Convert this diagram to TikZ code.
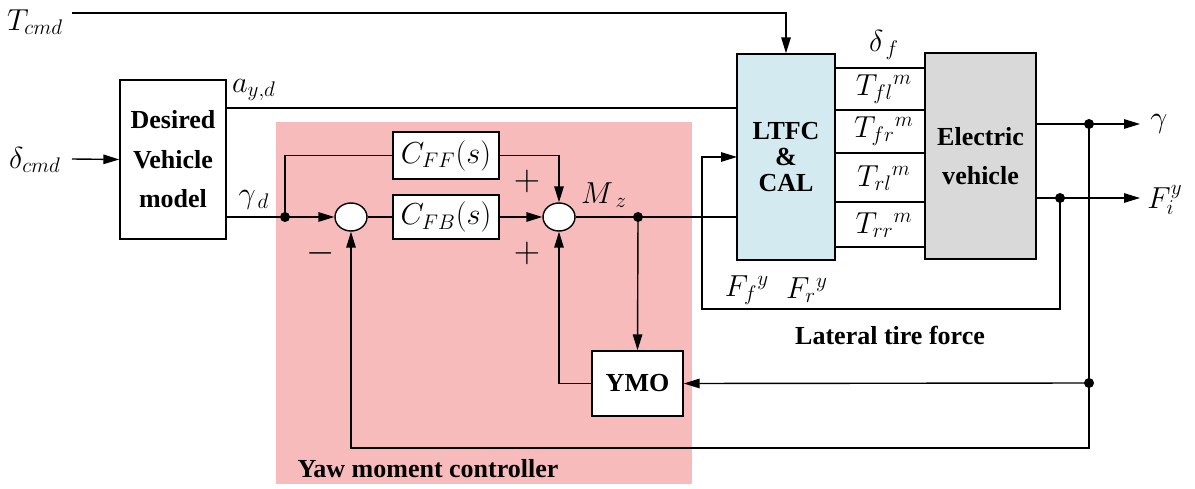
\documentclass[tikz,border=0pt]{standalone}
\usepackage{fontspec}
\setmainfont{Liberation Serif}
\usepackage{tikz}
\usetikzlibrary{arrows.meta,positioning,shapes.geometric,calc}
\definecolor{ymcpink}{HTML}{F7BBBC}
\definecolor{ltfcblue}{HTML}{D3EAF0}
\definecolor{evgray}{HTML}{D9D9D9}

\begin{document}
\begin{tikzpicture}[x=0.02cm,y=-0.02cm,line width=0.8pt,
  >={Triangle[length=0.32cm,width=0.19cm]},
  blk/.style={draw,fill=white,align=center,inner sep=0pt,font=\fontsize{14.8}{22.5}\selectfont\bfseries},
  sumnode/.style={draw,ellipse,fill=white,minimum width=0.64cm,minimum height=0.56cm,inner sep=0pt},
  lbl/.style={font=\fontsize{16.5}{19}\selectfont,inner sep=1pt},
  sgn/.style={font=\fontsize{21}{24}\selectfont,inner sep=0pt},
  dot/.style={fill=black}]
  \useasboundingbox (0,0) rectangle (1195,489);
  % yaw moment controller region
  \fill[ymcpink] (276,122) rectangle (692,484);
  \node[font=\fontsize{14.8}{17}\selectfont\bfseries] (ymclbl) at (428,469) {Yaw moment controller};

  % blocks
  \node[blk,minimum width=2.12cm,minimum height=3.18cm] (dvm) at (173,159.5) {Desired\\Vehicle\\model};
  \node[blk,minimum width=2.12cm,minimum height=0.94cm,font=\fontsize{16.5}{19}\selectfont] (cff) at (446,155.5) {$C_{FF}(s)$};
  \node[blk,minimum width=2.12cm,minimum height=0.88cm,font=\fontsize{16.5}{19}\selectfont] (cfb) at (446,217) {$C_{FB}(s)$};
  \node[sumnode] (sum1) at (351,217) {};
  \node[sumnode] (sum2) at (559,217) {};
  \node[blk,minimum width=1.82cm,minimum height=1.3cm] (ymo) at (637.5,383.5) {YMO};
  \node[blk,fill=ltfcblue,minimum width=1.96cm,minimum height=4.12cm,font=\fontsize{14.8}{15}\selectfont\bfseries] (ltfc) at (786,157) {LTFC\\\&\\CAL};
  \node[blk,fill=evgray,minimum width=2.22cm,minimum height=4.12cm] (ev) at (980.5,156) {Electric\\vehicle};

  % signal labels
  \node[lbl] (tcmd) at (35,22) {$T_{cmd}$};
  \node[lbl] (dcmd) at (35,160) {$\delta_{cmd}$};
  \node[lbl] (ayd) at (254,90) {$a_{y,d}$};
  \node[lbl] (gamd) at (254,200) {$\gamma_{\,d}$};
  \node[lbl] (mz) at (604,195) {$M_{\;z}$};
  \node[sgn] (plusa) at (527,181) {$+$};
  \node[sgn] (plusb) at (527,253) {$+$};
  \node[sgn] (minus) at (321,253) {$-$};
  \node[lbl] (deltaf) at (884,45) {$\delta_{\,f}$};
  \node[lbl] (tfl) at (884,89) {$T_{fl}{}^{m}$};
  \node[lbl] (tfr) at (884,131) {$T_{fr}{}^{m}$};
  \node[lbl] (trl) at (884,178) {$T_{rl}{}^{m}$};
  \node[lbl] (trr) at (884,225) {$T_{rr}{}^{m}$};
  \node[lbl] (ffy) at (747,290) {$F_{f}{}^{y}$};
  \node[lbl] (fry) at (807,290) {$F_{r}{}^{y}$};
  \node[font=\fontsize{14.8}{17}\selectfont\bfseries] (latlbl) at (890,335) {Lateral tire force};
  \node[lbl,anchor=west] (gam) at (1148,124) {$\gamma$};
  \node[lbl,anchor=west] (fiy) at (1145,200) {$F_i^{y}$};

  % junctions
  \coordinate (tcmdin) at (72,13);
  \coordinate (dcmdin) at (72,159);
  \coordinate (aydout) at (226,108);
  \coordinate (jgd) at (285,217);
  \coordinate (jmz) at (638,217);
  \coordinate (jgam) at (1089,124);
  \coordinate (jfy) at (1060,198);
  \coordinate (jymo) at (1089,383);
  \coordinate (jbot) at (1089,448);
  \coordinate (latcorner) at (702,309);
  \coordinate (fbin) at (737,157);
  \coordinate (gamend) at (1140,124);
  \coordinate (fiyend) at (1140,198);

  % connectors
  \draw[->] (tcmdin) -| (ltfc.north);
  \draw[->] (dcmdin) -- (dvm.west);
  \draw (aydout) -- (aydout -| ltfc.west);
  \draw (dvm.east |- jgd) -- (jgd);
  \draw[->] (jgd) -- (sum1.west);
  \draw (jgd) |- (cff.west);
  \draw[->] (cff.east) -| (sum2.north);
  \draw (sum1.east) -- (cfb.west);
  \draw[->] (cfb.east) -- (sum2.west);
  \draw (sum2.east) -- (jmz) -- (jmz -| ltfc.west);
  \draw[->] (jmz) -- (ymo.north);
  \draw[->] (ymo.west) -| (sum2.south);
  \draw[->] (jymo) -- (ymo.east);
  \draw[->] (jgam) -- (jbot) -| (sum1.south);
  \foreach \yy in {68,110,153,202,247} {
    \draw (ltfc.east |- 0,\yy) -- (ev.west |- 0,\yy);
  }
  \draw[->] (ev.east |- jgam) -- (gamend);
  \draw[->] (ev.east |- jfy) -- (fiyend);
  \draw[->] (jfy) |- (latcorner) |- (fbin);
  \foreach \j in {jgd,jmz,jgam,jfy,jymo} {
    \fill[dot] (\j) circle (0.1cm);
  }
\end{tikzpicture}
\end{document}
